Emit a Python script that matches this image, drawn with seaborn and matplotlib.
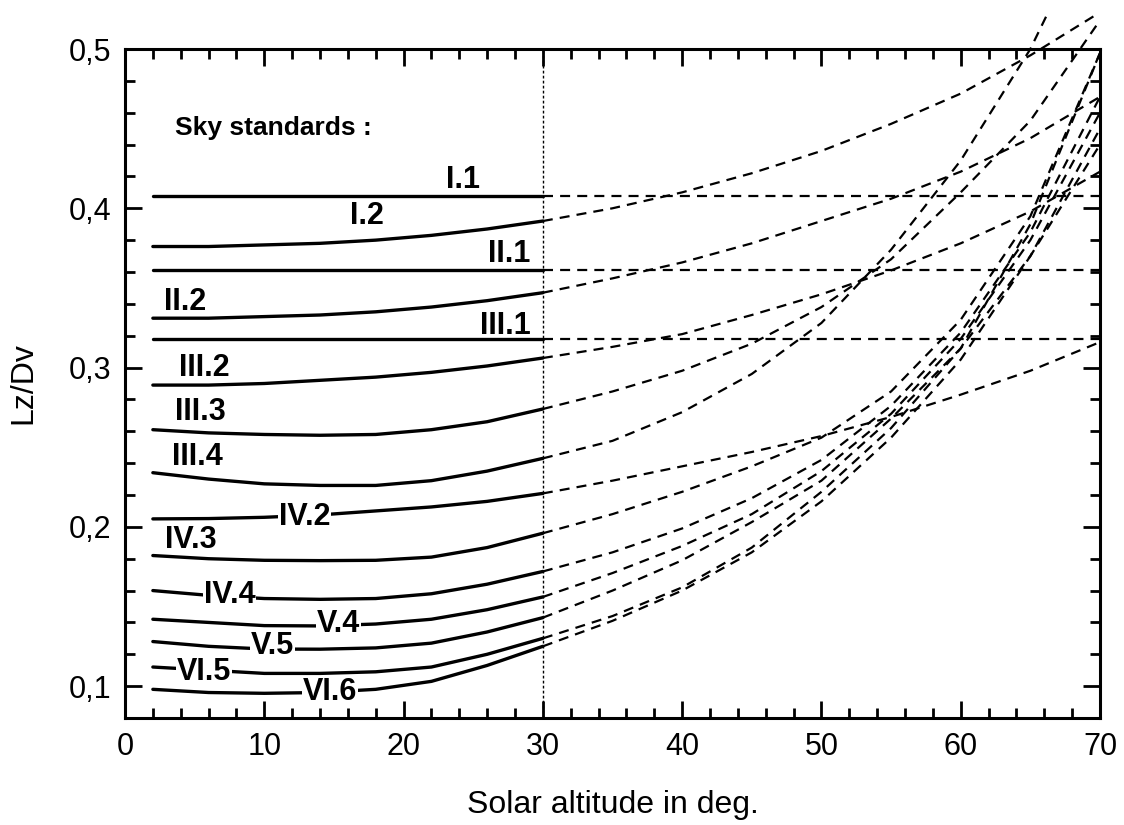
import matplotlib
matplotlib.use("Agg")
import matplotlib.pyplot as plt
import seaborn as sns
import numpy as np
import pandas as pd
from matplotlib.patches import Rectangle

# ---------------- data ----------------
x_solid = [2, 6, 10, 14, 18, 22, 26, 30]
x_ext = [30, 35, 40, 45, 50, 55, 60, 65, 70]

names = ["I.1", "I.2", "II.1", "II.2", "III.1", "III.2", "III.3", "III.4",
         "IV.2", "IV.3", "IV.4", "V.4", "V.5", "VI.5", "VI.6"]

I1_solid = [0.408, 0.408, 0.408, 0.408, 0.408, 0.408, 0.408, 0.408]
I2_solid = [0.376, 0.376, 0.377, 0.378, 0.380, 0.383, 0.387, 0.392]
II1_solid = [0.361, 0.361, 0.361, 0.361, 0.361, 0.361, 0.361, 0.361]
II2_solid = [0.331, 0.331, 0.332, 0.333, 0.335, 0.338, 0.342, 0.347]
III1_solid = [0.318, 0.318, 0.318, 0.318, 0.318, 0.318, 0.318, 0.318]
III2_solid = [0.289, 0.289, 0.290, 0.292, 0.294, 0.297, 0.301, 0.306]
III3_solid = [0.261, 0.259, 0.258, 0.2575, 0.258, 0.261, 0.266, 0.274]
III4_solid = [0.234, 0.230, 0.227, 0.226, 0.226, 0.229, 0.235, 0.243]
IV2_solid = [0.205, 0.2052, 0.206, 0.2075, 0.210, 0.2125, 0.216, 0.221]
IV3_solid = [0.182, 0.180, 0.179, 0.1788, 0.179, 0.181, 0.187, 0.196]
IV4_solid = [0.160, 0.157, 0.155, 0.1545, 0.155, 0.158, 0.164, 0.172]
V4_solid = [0.142, 0.140, 0.138, 0.1378, 0.139, 0.142, 0.148, 0.156]
V5_solid = [0.128, 0.125, 0.1233, 0.1232, 0.124, 0.127, 0.134, 0.143]
VI5_solid = [0.112, 0.110, 0.108, 0.108, 0.109, 0.112, 0.120, 0.130]
VI6_solid = [0.098, 0.096, 0.0955, 0.096, 0.098, 0.103, 0.113, 0.125]

I1_ext = [0.408, 0.408, 0.408, 0.408, 0.408, 0.408, 0.408, 0.408, 0.408]
I2_ext = [0.392, 0.400, 0.410, 0.422, 0.436, 0.453, 0.472, 0.496, 0.523]
II1_ext = [0.361, 0.361, 0.361, 0.361, 0.361, 0.361, 0.361, 0.361, 0.361]
II2_ext = [0.347, 0.356, 0.366, 0.378, 0.392, 0.406, 0.423, 0.444, 0.470]
III1_ext = [0.318, 0.318, 0.318, 0.318, 0.318, 0.318, 0.318, 0.318, 0.318]
III2_ext = [0.306, 0.313, 0.321, 0.333, 0.346, 0.361, 0.378, 0.398, 0.423]
III3_ext = [0.274, 0.285, 0.298, 0.315, 0.338, 0.368, 0.410, 0.455, 0.518]
III4_ext = [0.243, 0.254, 0.272, 0.296, 0.328, 0.374, 0.430, 0.500, 0.590]
IV2_ext = [0.221, 0.229, 0.238, 0.247, 0.257, 0.269, 0.283, 0.298, 0.316]
IV3_ext = [0.196, 0.208, 0.222, 0.238, 0.256, 0.285, 0.330, 0.395, 0.4975]
IV4_ext = [0.172, 0.184, 0.199, 0.218, 0.242, 0.276, 0.322, 0.385, 0.470]
V4_ext = [0.156, 0.171, 0.188, 0.208, 0.235, 0.271, 0.318, 0.380, 0.460]
V5_ext = [0.143, 0.160, 0.179, 0.203, 0.229, 0.268, 0.312, 0.370, 0.440]
VI5_ext = [0.130, 0.144, 0.162, 0.187, 0.222, 0.262, 0.312, 0.390, 0.4975]
VI6_ext = [0.125, 0.141, 0.160, 0.184, 0.216, 0.256, 0.305, 0.370, 0.450]

solids = [I1_solid, I2_solid, II1_solid, II2_solid, III1_solid, III2_solid, III3_solid,
          III4_solid, IV2_solid, IV3_solid, IV4_solid, V4_solid, V5_solid, VI5_solid, VI6_solid]
exts = [I1_ext, I2_ext, II1_ext, II2_ext, III1_ext, III2_ext, III3_ext, III4_ext,
        IV2_ext, IV3_ext, IV4_ext, V4_ext, V5_ext, VI5_ext, VI6_ext]

# label anchor positions (data coords)
label_x = [24.3, 17.4, 27.6, 4.3, 27.3, 5.7, 5.4, 5.2, 12.9, 4.7, 7.5, 15.3, 10.6, 5.7, 14.7]
label_y = [0.418, 0.395, 0.371, 0.341, 0.326, 0.300, 0.272, 0.244, 0.206, 0.192, 0.157,
           0.139, 0.125, 0.109, 0.0962]
label_box = [False, False, False, False, False, False, False, False,
             True, False, True, True, True, True, True]

x_ticks = [0, 10, 20, 30, 40, 50, 60, 70]
y_ticks = [0.1, 0.2, 0.3, 0.4, 0.5]
y_ticklabels = ["0,1", "0,2", "0,3", "0,4", "0,5"]

# ---------------- plot ----------------
sns.set_style("ticks")
plt.rcParams["font.family"] = ["Liberation Sans", "DejaVu Sans"]
plt.rcParams.update({"text.color": "black", "axes.labelcolor": "black",
                     "xtick.color": "black", "ytick.color": "black",
                     "axes.edgecolor": "black"})

fig = plt.figure(figsize=(11.24, 8.25), dpi=100)
ax = fig.add_axes([125 / 1124, (825 - 718) / 825, 975 / 1124, 669 / 825])

clip_rect = Rectangle((0, 0), 1, 1.052, transform=ax.transAxes, facecolor="none",
                      edgecolor="none")

for name, ys, ye in zip(names, solids, exts):
    df_s = pd.DataFrame({"x": x_solid, "y": ys})
    sns.lineplot(data=df_s, x="x", y="y", ax=ax, color="black", lw=2.4,
                 estimator=None, sort=False, zorder=3)
    df_e = pd.DataFrame({"x": x_ext, "y": ye})
    sns.lineplot(data=df_e, x="x", y="y", ax=ax, color="black", lw=1.6,
                 estimator=None, sort=False, zorder=2)
    ln = ax.lines[-1]
    ln.set_linestyle((0, (4.5, 3.2)))
    ln.set_clip_path(clip_rect)

ax.axvline(30, color="black", lw=1.0, ls=(0, (2, 1.6)), zorder=1)

for name, lx, ly, box in zip(names, label_x, label_y, label_box):
    kw = {}
    if box:
        kw["bbox"] = dict(facecolor="white", edgecolor="none", pad=0.6)
    ax.text(lx, ly, name, fontsize=22, fontweight="bold", ha="center", va="center",
            color="black", zorder=5, **kw)

ax.text(3.6, 0.4505, "Sky standards :", fontsize=19, fontweight="bold", ha="left",
        va="center", color="black", zorder=5)

ax.set_xlim(0, 70)
ax.set_ylim(0.08, 0.5)
ax.set_xticks(x_ticks)
ax.set_xticks(np.arange(0, 71, 2), minor=True)
ax.set_yticks(y_ticks)
ax.set_yticklabels(y_ticklabels)
ax.set_yticks(np.arange(0.08, 0.501, 0.02), minor=True)
ax.tick_params(which="both", direction="in", top=True, right=True, width=2,
               labelsize=22, pad=10, colors="black")
ax.tick_params(which="major", length=12)
ax.tick_params(which="minor", length=7)
for sp in ax.spines.values():
    sp.set_linewidth(2.2)
    sp.set_visible(True)
    sp.set_color("black")

ax.set_xlabel("Solar altitude in deg.", fontsize=23, labelpad=20, color="black")
ax.set_ylabel("Lz/Dv", fontsize=23, labelpad=22, color="black")

fig.savefig("out.png", dpi=100)
